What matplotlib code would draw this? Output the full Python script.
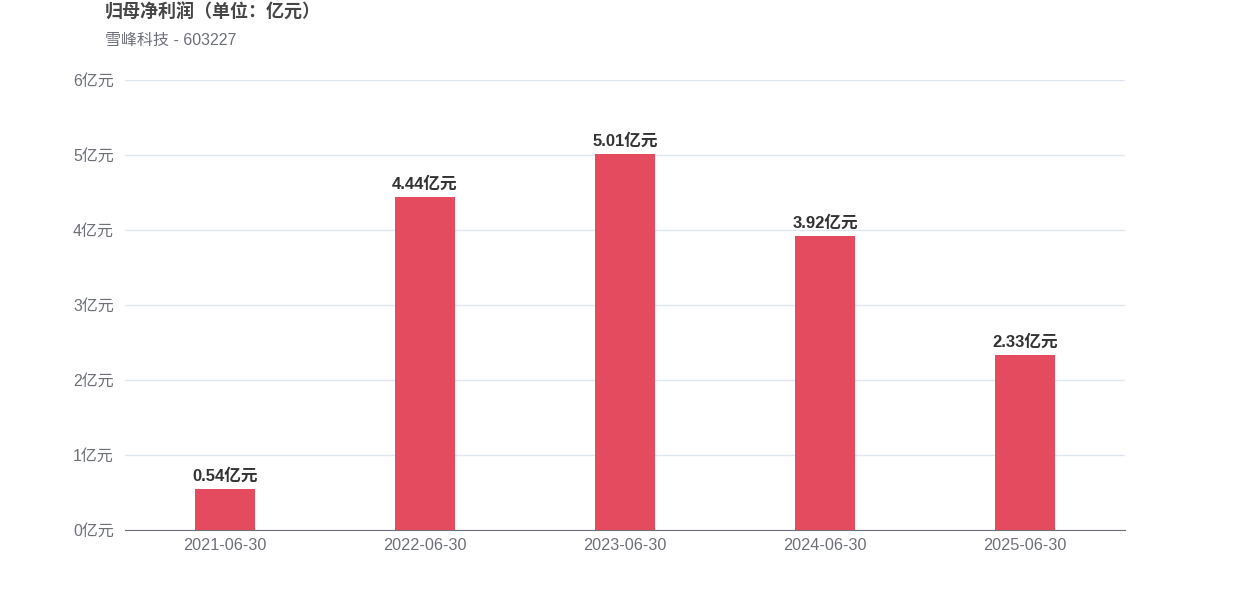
import matplotlib.pyplot as plt
import numpy as np

plt.rcParams['font.family'] = ['Liberation Sans', 'Noto Sans CJK SC', 'DejaVu Sans']

dates = ['2021-06-30', '2022-06-30', '2023-06-30', '2024-06-30', '2025-06-30']
profit = [0.54, 4.44, 5.01, 3.92, 2.33]
yticks = [0, 1, 2, 3, 4, 5, 6]

fig = plt.figure(figsize=(12.5, 6), dpi=100)
ax = fig.add_axes([0.1, 0.1167, 0.8, 0.75])

x = np.arange(len(dates))
bars = ax.bar(x, profit, width=0.3, color='#e54b5e', zorder=3)
for xi, v in zip(x, profit):
    ax.text(xi, v + 0.07, f'{v:.2f}亿元', ha='center', va='bottom',
            fontsize=12, fontweight='bold', color='#333333')

ax.set_xlim(-0.5, len(dates) - 0.5)
ax.set_ylim(0, 6)
ax.set_xticks(x)
ax.set_xticklabels(dates, fontsize=11.7, color='#6e7079')
ax.set_yticks(yticks)
ax.set_yticklabels([f'{t}亿元' for t in yticks], fontsize=11.5, color='#6e7079')
ax.tick_params(axis='x', length=0, pad=6)
ax.tick_params(axis='y', length=0, pad=8)
for lbl in ax.get_yticklabels():
    lbl.set_y(lbl.get_position()[1])
    lbl.set_verticalalignment('center_baseline')
ax.grid(axis='y', color='#e0e6f1', linewidth=1, zorder=0)
for s in ['top', 'right', 'left']:
    ax.spines[s].set_visible(False)
ax.spines['bottom'].set_color('#6e7079')

fig.text(105 / 1250, 1 - 13 / 600, '归母净利润（单位：亿元）', fontsize=13,
         fontweight='bold', color='#464646', va='center', ha='left')
fig.text(105 / 1250, 1 - 40 / 600, '雪峰科技 - 603227', fontsize=11.5,
         color='#6e7079', va='center', ha='left')

fig.savefig('out.png')
